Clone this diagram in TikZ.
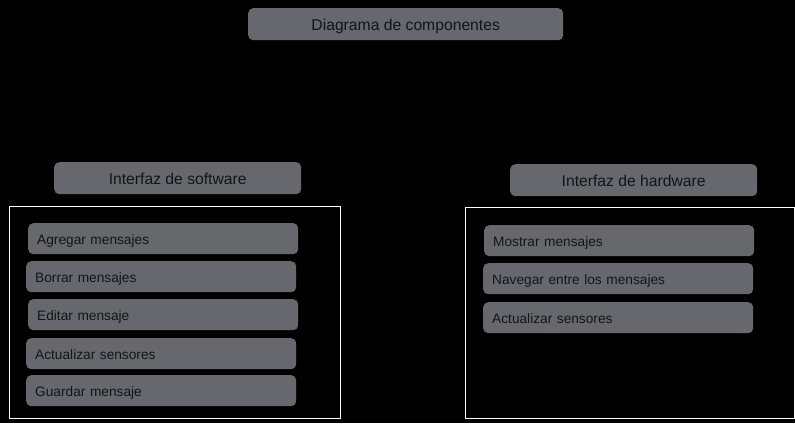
\documentclass[tikz,border=0pt]{standalone}
\usepackage{fontspec}
\setmainfont{Liberation Sans}
\definecolor{boxgray}{HTML}{66686E}
\definecolor{boxtext}{HTML}{141414}

\tikzset{
	comp/.style={
			x=1pt, y=-1pt,
			every node/.style={rectangle, rounded corners=5pt, fill=boxgray, text=boxtext, inner sep=0pt},
			head/.style={minimum width=247pt, minimum height=32pt, text height=13.2pt, text depth=0pt, font=\fontsize{15.7}{18}\selectfont, anchor=north west},
			item/.style={minimum height=31pt, text width=252pt, inner xsep=9pt, text height=10.6pt, text depth=0pt, align=left, font=\fontsize{13.7}{16}\selectfont, anchor=north west},
			frame/.style={draw=white, line width=1pt},
		}
}

\begin{document}
\begin{tikzpicture}[comp]
		\fill[black] (0,0) rectangle (795,423);
		\node[head, minimum width=315pt] (title) at (248,8) {Diagrama de componentes};

		% software side
		\node[head] (swhead) at (54,162) {Interfaz de software};
		\draw[frame] (9,206) rectangle (340,418);
		\foreach \txt/\x/\y [count=\i] in {Agregar mensajes/28/223, Borrar mensajes/26/261, Editar mensaje/28/299, Actualizar sensores/26/338, Guardar mensaje/26/375}
		\node[item] (sw\i) at (\x,\y) {\txt};

		% hardware side
		\node[head] (hwhead) at (510,164) {Interfaz de hardware};
		\draw[frame] (465,207) rectangle (794,418);
		\foreach \txt/\x/\y [count=\i] in {Mostrar mensajes/484/225, Navegar entre los mensajes/483/263, Actualizar sensores/483/302}
		\node[item] (hw\i) at (\x,\y) {\txt};
	\end{tikzpicture}
\end{document}
